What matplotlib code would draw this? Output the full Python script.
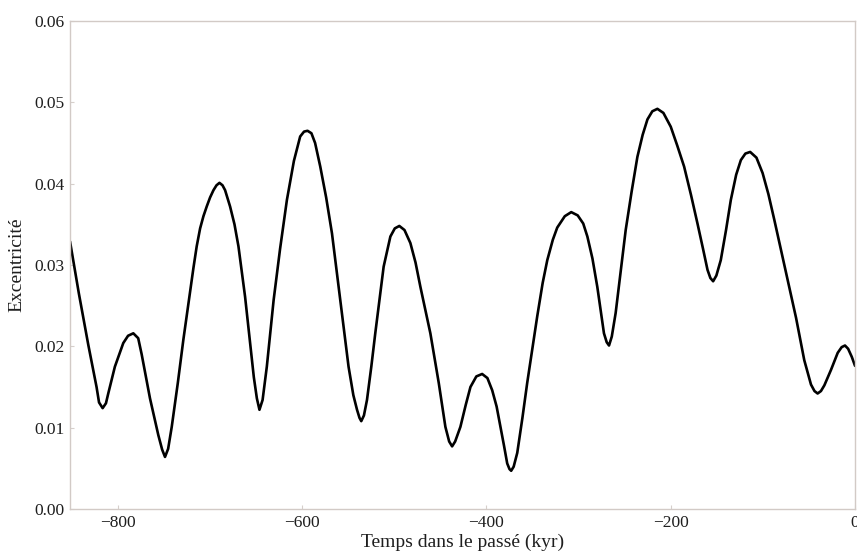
import matplotlib
matplotlib.use("Agg")
import matplotlib.pyplot as plt

# Excentricité de l'orbite terrestre sur les derniers 850 kyr
temps = [
    -852.0, -842.4, -832.2, -823.2, -820.5, -816.6,
    -813.0, -810.5, -803.3, -794.2, -789.0, -783.3,
    -778.0, -774.2, -765.2, -756.2, -752.0, -748.9,
    -745.5, -741.6, -735.0, -729.0, -722.5, -718.1, -714.5, -710.8, -707.2,
    -703.6, -700.0, -696.3, -693.0, -689.8,
    -686.5, -683.7, -678.3, -673.5, -669.2, -662.0, -656.5, -652.5,
    -649.2, -646.4,
    -643.0, -638.4, -631.0, -624.0, -616.6, -609.0, -602.2, -598.0, -594.2,
    -590.0, -586.0, -580.4, -574.0, -567.7, -558.7, -549.7, -544.5,
    -540.5, -537.8, -535.9,
    -533.0, -529.7, -525.0, -520.7, -511.6, -504.3, -499.5, -494.6,
    -489.0, -482.6, -477.0, -471.7, -460.9, -451.8, -444.6, -440.5, -437.3,
    -434.0, -428.3, -422.5, -417.4, -411.0, -404.7,
    -399.0, -393.8, -389.0, -384.8, -381.0, -377.5, -375.0, -373.2,
    -370.5, -366.6, -361.0, -355.8, -344.9, -339.0, -334.0, -328.0, -323.2,
    -315.0, -308.0,
    -301.0, -295.0, -290.5, -285.0, -279.7, -272.5, -269.5, -267.0,
    -264.0, -259.8, -254.0, -248.9, -242.5, -236.2, -230.5, -225.3,
    -220.0, -214.5,
    -208.0, -200.0, -193.0, -185.5, -178.0, -171.0, -165.0, -160.1,
    -157.0, -154.0,
    -150.5, -145.7, -140.0, -134.8, -129.0, -123.9, -119.0, -113.8,
    -107.0, -100.3, -94.0, -87.7, -80.5, -73.2, -64.0, -55.1, -51.0,
    -47.8, -44.0, -40.6,
    -37.0, -33.3, -26.1, -18.8, -14.5, -10.9,
    -7.5, -3.5, 0.0,
]
excentricite = [
    0.0329, 0.0265, 0.0202, 0.0150, 0.0131, 0.0124,
    0.0130, 0.0142, 0.0175, 0.0204, 0.0213, 0.0216,
    0.0210, 0.0190, 0.0136, 0.0091, 0.0073, 0.0064,
    0.0074, 0.0101, 0.0155, 0.0208, 0.0261, 0.0296, 0.0323, 0.0345, 0.0360,
    0.0372, 0.0383, 0.0392, 0.0398, 0.0401,
    0.0398, 0.0392, 0.0372, 0.0350, 0.0323, 0.0261, 0.0204, 0.0162,
    0.0136, 0.0122,
    0.0134, 0.0175, 0.0257, 0.0320, 0.0380, 0.0428, 0.0458, 0.0464, 0.0465,
    0.0462, 0.0450, 0.0421, 0.0383, 0.0339, 0.0257, 0.0175, 0.0140,
    0.0122, 0.0112, 0.0108,
    0.0115, 0.0134, 0.0175, 0.0216, 0.0298, 0.0335, 0.0345, 0.0348,
    0.0343, 0.0327, 0.0303, 0.0273, 0.0216, 0.0155, 0.0101, 0.0083, 0.0077,
    0.0083, 0.0101, 0.0128, 0.0150, 0.0163, 0.0166,
    0.0161, 0.0146, 0.0126, 0.0101, 0.0078, 0.0056, 0.0049, 0.0047,
    0.0052, 0.0069, 0.0112, 0.0155, 0.0237, 0.0278, 0.0306, 0.0331, 0.0346,
    0.0360, 0.0365,
    0.0361, 0.0351, 0.0335, 0.0308, 0.0273, 0.0216, 0.0205, 0.0201,
    0.0212, 0.0241, 0.0295, 0.0343, 0.0390, 0.0433, 0.0460, 0.0479,
    0.0489, 0.0492,
    0.0487, 0.0470, 0.0447, 0.0421, 0.0386, 0.0351, 0.0320, 0.0294,
    0.0284, 0.0280,
    0.0287, 0.0306, 0.0343, 0.0380, 0.0411, 0.0429, 0.0437, 0.0439,
    0.0432, 0.0413, 0.0387, 0.0356, 0.0319, 0.0282, 0.0235, 0.0183, 0.0166,
    0.0153, 0.0145, 0.0142,
    0.0145, 0.0152, 0.0171, 0.0192, 0.0199, 0.0201,
    0.0197, 0.0187, 0.0176,
]
xticks = [-800, -600, -400, -200, 0]
yticks = [0.00, 0.01, 0.02, 0.03, 0.04, 0.05, 0.06]

plt.rcParams["font.family"] = ["Liberation Serif", "DejaVu Serif"]

fig = plt.figure(figsize=(8.57, 5.57), dpi=100)
ax = fig.add_axes([0.0817, 0.0862, 0.916, 0.8761])

ax.plot(temps, excentricite, color="black", linewidth=1.9,
        solid_joinstyle="round", solid_capstyle="round")

ax.set_xlim(-852, 0)
ax.set_ylim(0, 0.06)
ax.set_xticks(xticks)
ax.set_xticklabels(["\u2212" + str(-v) if v < 0 else str(v) for v in xticks])
ax.set_yticks(yticks)
ax.set_yticklabels(["%.2f" % v for v in yticks])
ax.tick_params(direction="in", length=3, color="#d6cfcb", labelsize=12.5, pad=4,
               labelcolor="#1e1e1e")

for s in ax.spines.values():
    s.set_color("#d2cac6")
    s.set_linewidth(1.0)

ax.set_xlabel("Temps dans le passé (kyr)", fontsize=14, labelpad=2, color="#1e1e1e")
ax.set_ylabel("Excentricité", fontsize=14, labelpad=6, color="#1e1e1e")

fig.savefig("out.png", dpi=100)
